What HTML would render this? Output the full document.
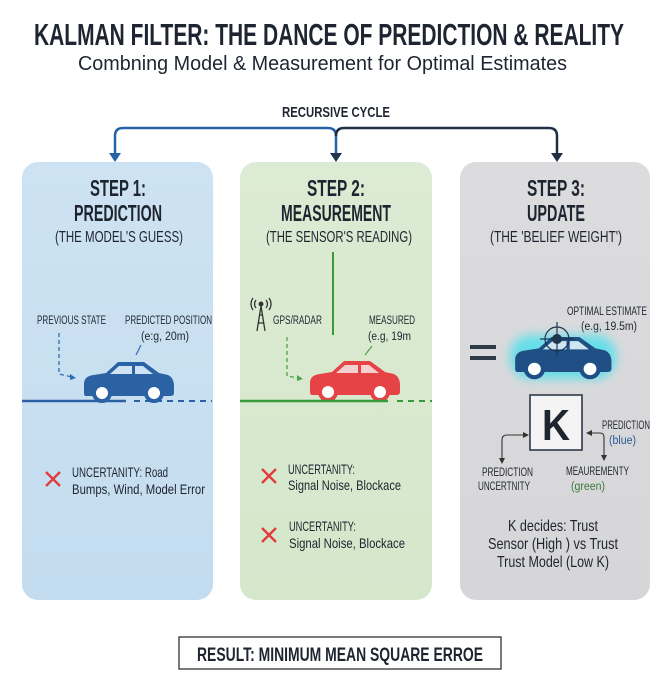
<!DOCTYPE html>
<html><head><meta charset="utf-8"><style>
html,body{margin:0;padding:0;background:#fff;}
svg{display:block;}
text{font-family:"Liberation Sans Narrow","Liberation Sans",sans-serif;fill:#1e2530;}
.b{font-weight:bold;}
</style></head><body>
<svg width="672" height="678" viewBox="0 0 672 678" xmlns="http://www.w3.org/2000/svg">
<defs>
<linearGradient id="gb" x1="0" y1="0" x2="0" y2="1"><stop offset="0" stop-color="#cde3f3"/><stop offset="1" stop-color="#c4dcef"/></linearGradient>
<linearGradient id="gg" x1="0" y1="0" x2="0" y2="1"><stop offset="0" stop-color="#dcebd3"/><stop offset="1" stop-color="#d4e7cb"/></linearGradient>
<linearGradient id="gy" x1="0" y1="0" x2="0" y2="1"><stop offset="0" stop-color="#dcdcde"/><stop offset="1" stop-color="#d6d6d8"/></linearGradient>
<filter id="glow" x="-30%" y="-50%" width="160%" height="200%"><feGaussianBlur stdDeviation="5"/></filter>
<g id="car">
<path d="M2,22 Q2,14 12,13 L24,11 L36,0 L62,0 L77,11 L86,13 Q92,16 92,24 L92,31 Q92,34 88,34 L4,34 Q2,34 2,31 Z"/>
</g>
</defs>
<rect width="672" height="678" fill="#fff"/>
<text class="b" x="34" y="45" font-size="31" textLength="590" lengthAdjust="spacingAndGlyphs">KALMAN FILTER: THE DANCE OF PREDICTION &amp; REALITY</text>
<text x="78" y="70" font-size="20" textLength="489" lengthAdjust="spacingAndGlyphs" style="font-family:'Liberation Sans',sans-serif">Combning Model &amp; Measurement for Optimal Estimates</text>

<rect x="22" y="162" width="191" height="438" rx="16" fill="url(#gb)"/>
<rect x="240" y="162" width="192" height="438" rx="16" fill="url(#gg)"/>
<rect x="460" y="162" width="190" height="438" rx="16" fill="url(#gy)"/>

<text x="336" y="117" font-size="15" text-anchor="middle" class="b" textLength="108" lengthAdjust="spacingAndGlyphs">RECURSIVE CYCLE</text>
<path d="M115,156 L115,136 Q115,128 123,128 L328,128 Q336,128 336,136 L336,156" fill="none" stroke="#2563a6" stroke-width="2.5"/>
<path d="M336,136 Q336,128 344,128 L549,128 Q557,128 557,136 L557,156" fill="none" stroke="#1f2f44" stroke-width="2.5"/>
<path d="M109,153 L121,153 L115,162 Z" fill="#2563a6"/>
<path d="M330,153 L342,153 L336,162 Z" fill="#1f3550"/>
<path d="M551,153 L563,153 L557,162 Z" fill="#1f2f44"/>

<g class="b" font-size="23" text-anchor="middle">
<text x="118" y="196" class="b" textLength="56" lengthAdjust="spacingAndGlyphs">STEP 1:</text>
<text x="118" y="221" class="b" textLength="88" lengthAdjust="spacingAndGlyphs">PREDICTION</text>
<text x="336" y="196" class="b" textLength="58" lengthAdjust="spacingAndGlyphs">STEP 2:</text>
<text x="336" y="221" class="b" textLength="110" lengthAdjust="spacingAndGlyphs">MEASUREMENT</text>
<text x="556" y="196" class="b" textLength="58" lengthAdjust="spacingAndGlyphs">STEP 3:</text>
<text x="556" y="221" class="b" textLength="58" lengthAdjust="spacingAndGlyphs">UPDATE</text>
</g>
<g font-size="16" text-anchor="middle">
<text x="119" y="242" textLength="128" lengthAdjust="spacingAndGlyphs">(THE MODEL'S GUESS)</text>
<text x="339" y="242" textLength="146" lengthAdjust="spacingAndGlyphs">(THE SENSOR'S READING)</text>
<text x="556" y="242" textLength="132" lengthAdjust="spacingAndGlyphs">(THE 'BELIEF WEIGHT')</text>
</g>

<g font-size="11.5">
<text x="37" y="324" textLength="69" lengthAdjust="spacingAndGlyphs">PREVIOUS STATE</text>
<text x="125" y="324" textLength="87" lengthAdjust="spacingAndGlyphs">PREDICTED POSITION</text>
<text x="141" y="340" textLength="48" lengthAdjust="spacingAndGlyphs">(e:g, 20m)</text>
</g>
<path d="M59,333 L59,374 L72,377" fill="none" stroke="#2c6db0" stroke-width="1.3" stroke-dasharray="4,3"/>
<path d="M70,374 L76,378 L70,380 Z" fill="#2c6db0"/>
<line x1="141" y1="345" x2="136" y2="355" stroke="#2c6db0" stroke-width="1.2"/>
<g transform="translate(82,362)" fill="#2a62a3">
<use href="#car"/>
<path d="M37,4 L50,4 L50,12 L28,12 Z M53,4 L61,4 L71,12 L53,12 Z" fill="#cfe3f4"/>
<circle cx="20" cy="31" r="8" fill="#fff" stroke="#2a62a3" stroke-width="4"/>
<circle cx="72" cy="31" r="8" fill="#fff" stroke="#2a62a3" stroke-width="4"/>
</g>
<line x1="22" y1="401" x2="126" y2="401" stroke="#2a62a3" stroke-width="2.5"/>
<line x1="134" y1="401" x2="212" y2="401" stroke="#2a62a3" stroke-width="2" stroke-dasharray="6,5"/>
<path d="M46,472 L60,486 M60,472 L46,486" stroke="#e03a3a" stroke-width="2.3"/>
<text x="72" y="477" font-size="14" textLength="96" lengthAdjust="spacingAndGlyphs">UNCERTANITY: Road</text>
<text x="72" y="494" font-size="14" textLength="133" lengthAdjust="spacingAndGlyphs">Bumps, Wind, Model Error</text>

<line x1="333" y1="252" x2="333" y2="335" stroke="#3a9a3a" stroke-width="2"/>
<g stroke="#333" stroke-width="1.3" fill="none">
<path d="M257,331 L261,306 L265,331 M258,323 L264,323 M259,315 L263,315"/>
<circle cx="261" cy="304" r="1.8" fill="#333"/>
<path d="M256,300 Q253,304 256,308 M266,300 Q269,304 266,308 M253,298 Q249,304 253,310 M269,298 Q273,304 269,310"/>
</g>
<g font-size="11.5">
<text x="273" y="324" textLength="49" lengthAdjust="spacingAndGlyphs">GPS/RADAR</text>
<text x="369" y="324" textLength="46" lengthAdjust="spacingAndGlyphs">MEASURED</text>
<text x="368" y="340" textLength="43" lengthAdjust="spacingAndGlyphs">(e.g, 19m</text>
</g>
<path d="M287,337 L287,376 L298,378" fill="none" stroke="#4aa24a" stroke-width="1.3" stroke-dasharray="4,3"/>
<path d="M297,375 L303,379 L297,381 Z" fill="#4aa24a"/>
<line x1="372" y1="346" x2="365" y2="355" stroke="#4aa24a" stroke-width="1.2"/>
<g transform="translate(308,361)" fill="#e54346">
<use href="#car"/>
<path d="M37,4 L50,4 L50,12 L28,12 Z M53,4 L61,4 L71,12 L53,12 Z" fill="#f6d0d0"/>
<circle cx="20" cy="31" r="8" fill="#fff" stroke="#e54346" stroke-width="4"/>
<circle cx="72" cy="31" r="8" fill="#fff" stroke="#e54346" stroke-width="4"/>
</g>
<line x1="240" y1="401" x2="388" y2="401" stroke="#3a9a3a" stroke-width="2.5"/>
<line x1="397" y1="401" x2="432" y2="401" stroke="#3a9a3a" stroke-width="2" stroke-dasharray="6,5"/>
<path d="M262,469 L276,483 M276,469 L262,483" stroke="#e03a3a" stroke-width="2.3"/>
<text x="288" y="474" font-size="14" textLength="67" lengthAdjust="spacingAndGlyphs">UNCERTANITY:</text>
<text x="288" y="490" font-size="14" textLength="113" lengthAdjust="spacingAndGlyphs">Signal Noise, Blockace</text>
<path d="M262,528 L276,542 M276,528 L262,542" stroke="#e03a3a" stroke-width="2.3"/>
<text x="289" y="531" font-size="14" textLength="67" lengthAdjust="spacingAndGlyphs">UNCERTANITY:</text>
<text x="289" y="548" font-size="14" textLength="116" lengthAdjust="spacingAndGlyphs">Signal Noise, Blockace</text>

<g font-size="11.5">
<text x="567" y="315" textLength="80" lengthAdjust="spacingAndGlyphs">OPTIMAL ESTIMATE</text>
<text x="581" y="330" textLength="56" lengthAdjust="spacingAndGlyphs">(e.g, 19.5m)</text>
</g>
<rect x="470" y="345" width="26" height="4" fill="#2d3a4a"/>
<rect x="470" y="356" width="26" height="4" fill="#2d3a4a"/>
<rect x="510" y="335" width="106" height="44" rx="20" fill="#3fe0ee" opacity="0.75" filter="url(#glow)"/>
<g transform="translate(513,337) scale(1.07,1.03)" fill="#1f4f85">
<use href="#car"/>
<path d="M37,4 L50,4 L50,12 L28,12 Z M53,4 L61,4 L71,12 L53,12 Z" fill="#cde6f2"/>
<circle cx="20" cy="31" r="8" fill="#fff" stroke="#1f4f85" stroke-width="4"/>
<circle cx="72" cy="31" r="8" fill="#fff" stroke="#1f4f85" stroke-width="4"/>
</g>
<g stroke="#1f3550" stroke-width="1.2" fill="none">
<circle cx="557" cy="339" r="12"/>
<line x1="557" y1="322" x2="557" y2="356"/>
<line x1="540" y1="339" x2="574" y2="339"/>
</g>
<circle cx="557" cy="339" r="5" fill="#1f3550"/>

<rect x="530" y="395" width="52" height="55" fill="#f4f4f4" stroke="#2d3a4a" stroke-width="1.6"/>
<text x="556" y="440" font-size="44" class="b" text-anchor="middle" textLength="28" lengthAdjust="spacingAndGlyphs">K</text>
<path d="M502,459 L502,440 Q502,435 507,435 L524,435" fill="none" stroke="#333" stroke-width="1.1"/>
<path d="M523,432 L529,435 L523,438 Z M499,458 L502,464 L505,458 Z" fill="#333"/>
<path d="M591,433 L600,433 Q604,433 604,437 L604,456" fill="none" stroke="#333" stroke-width="1.1"/>
<path d="M592,430 L586,433 L592,436 Z M601,455 L604,461 L607,455 Z" fill="#333"/>
<g font-size="11.5">
<text x="602" y="429" textLength="48" lengthAdjust="spacingAndGlyphs">PREDICTION</text>
<text x="609" y="444" style="fill:#2a5a96" textLength="27" lengthAdjust="spacingAndGlyphs">(blue)</text>
<text x="482" y="476" textLength="51" lengthAdjust="spacingAndGlyphs">PREDICTION</text>
<text x="478" y="490" textLength="52" lengthAdjust="spacingAndGlyphs">UNCERTNITY</text>
<text x="566" y="475" textLength="63" lengthAdjust="spacingAndGlyphs">MEAUREMENTY</text>
<text x="571" y="490" style="fill:#3c7a3c" textLength="34" lengthAdjust="spacingAndGlyphs">(green)</text>
</g>
<g font-size="16" text-anchor="middle">
<text x="553" y="531" textLength="90" lengthAdjust="spacingAndGlyphs">K decides: Trust</text>
<text x="553" y="549" textLength="130" lengthAdjust="spacingAndGlyphs">Sensor (High ) vs Trust</text>
<text x="553" y="567" textLength="112" lengthAdjust="spacingAndGlyphs">Trust Model (Low K)</text>
</g>

<rect x="179" y="637" width="322" height="32" fill="#fff" stroke="#333" stroke-width="1.3"/>
<text x="340" y="661" font-size="19" class="b" text-anchor="middle" textLength="286" lengthAdjust="spacingAndGlyphs">RESULT: MINIMUM MEAN SQUARE ERROE</text>
</svg>
</body></html>
